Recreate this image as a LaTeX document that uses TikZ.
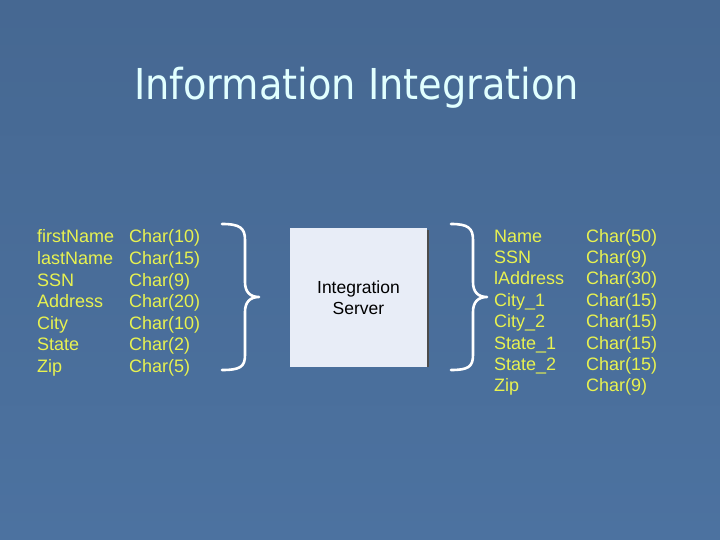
\documentclass[tikz,border=0pt]{standalone}
\usepackage{fontspec}
\setmainfont{Liberation Sans}
\newfontfamily\titlefont{DejaVu Sans Condensed}
\begin{document}
\begin{tikzpicture}[x=1pt,y=-1pt,
  field/.style={anchor=base west,inner sep=0pt,text=fieldyellow,font=\fontsize{18}{18}\selectfont},
  brace/.style={draw=white,line width=2.6pt,line cap=round,line join=round},
  serverbox/.style={draw=none,fill=boxfill,minimum width=137pt,minimum height=138pt,inner sep=0pt,align=center,font=\fontsize{17.5}{21}\selectfont},
  titletext/.style={inner sep=0pt,anchor=base west,font=\titlefont\fontsize{42.6}{43}\selectfont}]
\definecolor{bgtop}{RGB}{70,104,146}
\definecolor{bgbot}{RGB}{76,114,160}
\definecolor{fieldyellow}{RGB}{232,242,80}
\definecolor{boxfill}{RGB}{232,237,247}
\definecolor{titlecol}{RGB}{225,255,255}
\useasboundingbox (0,0) rectangle (720,540);
\shade[top color=bgtop,bottom color=bgbot] (0,0) rectangle (720,540);
% title
\node[titletext,text=titlecol] (title) at (134,100) {Information Integration};
% server box with shadow
\fill[black!70] (292,230) rectangle (429,367);
\node[serverbox] (server) at (358.5,297.5) {Integration\\Server};
% left table
\foreach \n/\t [count=\i from 0] in {firstName/Char(10),lastName/Char(15),SSN/Char(9),Address/Char(20),City/Char(10),State/Char(2),Zip/Char(5)}{
  \node[field] (l\i) at (37,243+21.5*\i) {\n};
  \node[field] (lt\i) at (129,243+21.5*\i) {\t};
}
% right table
\foreach \n/\t [count=\i from 0] in {Name/Char(50),SSN/Char(9),lAddress/Char(30),City\_1/Char(15),City\_2/Char(15),State\_1/Char(15),State\_2/Char(15),Zip/Char(9)}{
  \node[field] (r\i) at (494,242+21.4*\i) {\n};
  \node[field] (rt\i) at (586,242+21.4*\i) {\t};
}
% braces
\coordinate (lb1) at (222,224);
\coordinate (lb2) at (259,297);
\coordinate (lb3) at (222,370);
\draw[brace] (lb1) .. controls (240,224) and (245,228) .. (245,240)
  -- (245,282) .. controls (245,292) and (250,297) .. (lb2)
  .. controls (250,297) and (245,302) .. (245,312)
  -- (245,355) .. controls (245,367) and (240,370) .. (lb3);
\coordinate (rb1) at (451,224);
\coordinate (rb2) at (487,297);
\coordinate (rb3) at (451,370);
\draw[brace] (rb1) .. controls (468,224) and (473,228) .. (473,240)
  -- (473,282) .. controls (473,292) and (478,297) .. (rb2)
  .. controls (478,297) and (473,302) .. (473,312)
  -- (473,355) .. controls (473,367) and (468,370) .. (rb3);
\end{tikzpicture}
\end{document}
